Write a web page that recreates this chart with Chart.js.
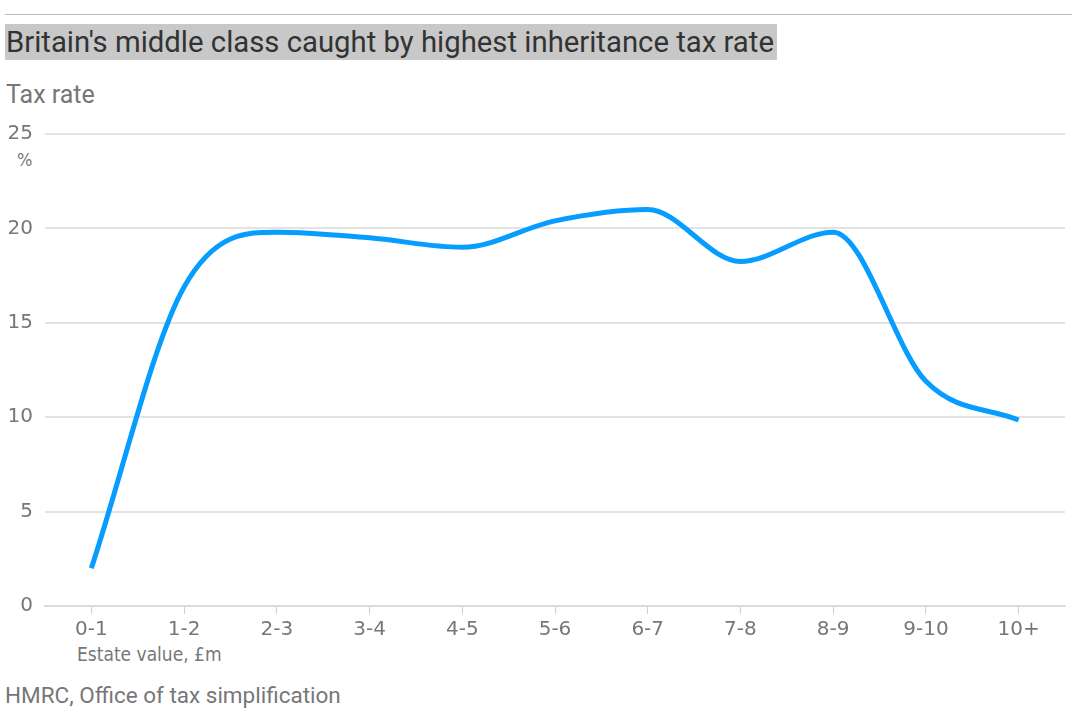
<!DOCTYPE html>
<html>
<head>
<meta charset="utf-8">
<script src="https://cdn.jsdelivr.net/npm/chart.js@4"></script>
<style>
  html, body { margin: 0; padding: 0; background: #fff; width: 1080px; height: 723px; overflow: hidden; }
  .rule { position: absolute; left: 5px; top: 14px; width: 1067px; height: 1px; background: #bdbdbd; }
  .title { position: absolute; left: 5px; top: 24px; height: 36px; line-height: 36px; padding: 0 3px 0 1px;
           background: #c8c8c8; color: #333; font-family: Roboto, "Noto Sans", sans-serif; font-size: 29.3px; white-space: nowrap; }
  .sub { position: absolute; left: 6px; top: 80px; color: #777; font-family: Roboto, "Noto Sans", sans-serif; font-size: 25px; }
  .pct { position: absolute; left: 17px; top: 149px; color: #777; font-family: "DejaVu Sans", sans-serif; font-stretch: condensed; font-size: 18px; }
  .xtitle { position: absolute; left: 77px; top: 643px; color: #777; font-family: "DejaVu Sans", sans-serif; font-stretch: condensed; font-size: 19px; }
  .src { position: absolute; left: 5px; top: 682px; color: #777; font-family: Roboto, "Noto Sans", sans-serif; font-size: 22.5px; }
  #wrap { position: absolute; left: 0; top: 110px; width: 1080px; height: 560px; }
</style>
</head>
<body>
<div class="rule"></div>
<div class="title">Britain's middle class caught by highest inheritance tax rate</div>
<div class="sub">Tax rate</div>
<div class="pct">%</div>
<div class="xtitle">Estate value, £m</div>
<div class="src">HMRC, Office of tax simplification</div>
<div id="wrap"><canvas id="c"></canvas></div>
<script>
const categories = ["0-1", "1-2", "2-3", "3-4", "4-5", "5-6", "6-7", "7-8", "8-9", "9-10", "10+"];
const taxRate = [2.0, 16.9, 19.8, 19.5, 19.0, 20.4, 21.0, 18.25, 19.8, 11.9, 9.85];
const yTicks = [0, 5, 10, 15, 20, 25];

const tickFont = { family: "'DejaVu Sans', sans-serif", style: 'condensed', size: 20 };

new Chart(document.getElementById('c'), {
  type: 'line',
  data: {
    labels: categories,
    datasets: [{
      data: taxRate,
      borderColor: '#069dff',
      borderWidth: 5,
      pointRadius: 0,
      fill: false,
      cubicInterpolationMode: 'monotone'
    }]
  },
  options: {
    responsive: true,
    maintainAspectRatio: false,
    animation: false,
    layout: { padding: { top: 23, right: 15, left: 0, bottom: 0 } },
    plugins: { legend: { display: false }, tooltip: { enabled: false } },
    scales: {
      x: {
        offset: true,
        grid: { display: true, drawOnChartArea: false, drawTicks: true, tickLength: 8, offset: false, color: '#d0d0d0' },
        border: { display: true, color: '#dcdcdc', width: 2 },
        ticks: { color: '#777', font: tickFont, padding: 4, maxRotation: 0 },
        afterFit: (s) => { s.height = 64; }
      },
      y: {
        min: 0, max: 25,
        afterBuildTicks: (s) => { s.ticks = yTicks.map(v => ({ value: v })); },
        grid: { color: '#e3e3e3', lineWidth: 2, drawTicks: false },
        border: { display: false },
        ticks: { color: '#777', font: tickFont, padding: 12 },
        afterFit: (s) => { s.width = 45; }
      }
    }
  }
});
</script>
</body>
</html>
